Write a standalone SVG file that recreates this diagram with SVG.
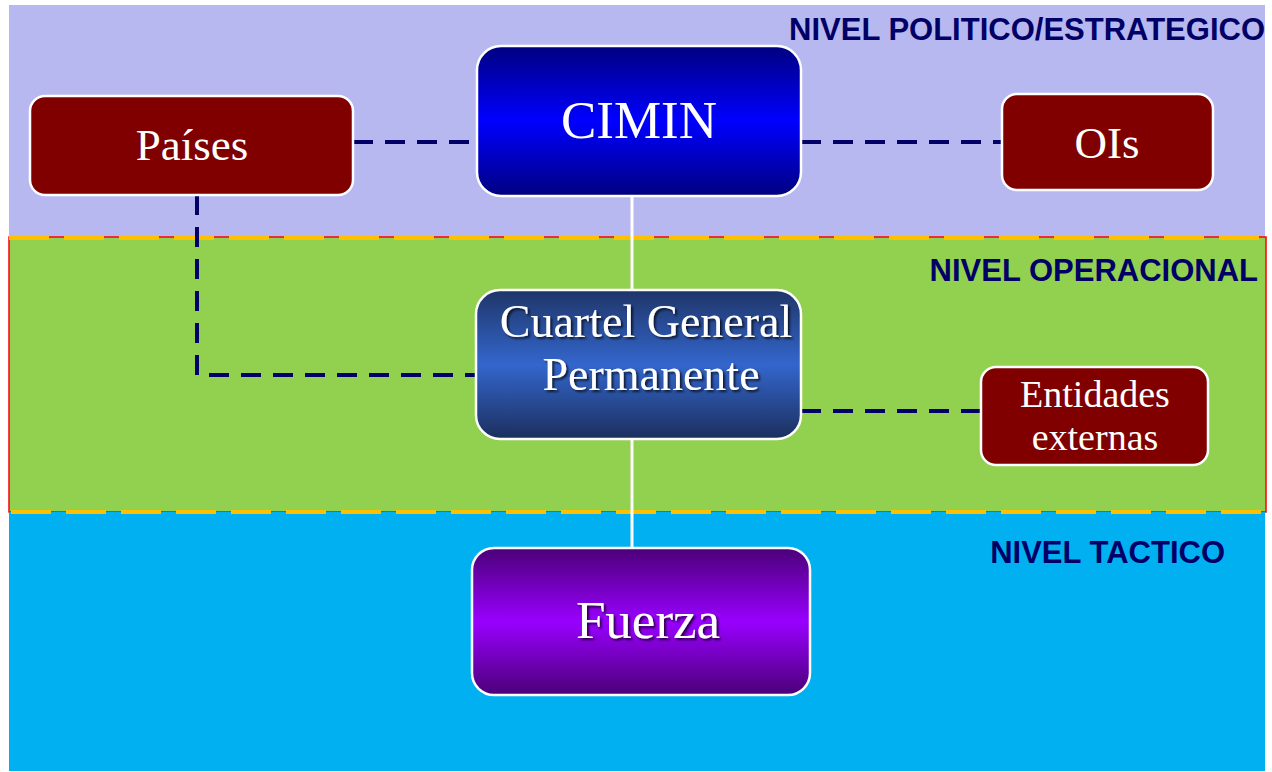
<svg xmlns="http://www.w3.org/2000/svg" width="1272" height="772" viewBox="0 0 1272 772">
<defs>
<linearGradient id="gBlue" x1="0" y1="0" x2="0" y2="1">
<stop offset="0" stop-color="#000080"/><stop offset="0.5" stop-color="#0000FF"/><stop offset="1" stop-color="#000080"/>
</linearGradient>
<linearGradient id="gCgp" x1="0" y1="0" x2="0" y2="1">
<stop offset="0" stop-color="#1F3568"/><stop offset="0.5" stop-color="#3366CC"/><stop offset="1" stop-color="#1C2F5E"/>
</linearGradient>
<linearGradient id="gPur" x1="0" y1="0" x2="0" y2="1">
<stop offset="0" stop-color="#4B0078"/><stop offset="0.5" stop-color="#9900FF"/><stop offset="1" stop-color="#4B0078"/>
</linearGradient>
<filter id="sh" x="-10%" y="-10%" width="120%" height="130%">
<feDropShadow dx="2" dy="2" stdDeviation="1" flood-color="#000" flood-opacity="0.7"/>
</filter>
</defs>
<style>
.node{stroke:#fff;stroke-width:2.5}
.red{fill:#800000}
.t{font-family:"Liberation Serif",serif;fill:#fff;text-anchor:middle}
.lvl{font-family:"Liberation Sans",Arial,sans-serif;font-weight:bold;font-size:31px;fill:#000066;text-anchor:end}
.dash{fill:none;stroke:#000066;stroke-width:4;stroke-dasharray:20 12}
.solid{fill:none;stroke:#fff;stroke-width:3}
.bord{fill:none;stroke:#FFC000;stroke-width:4;stroke-dasharray:40 15}
</style>
<rect width="1272" height="772" fill="#fff"/>
<g id="bands">
<rect x="9" y="5" width="1256" height="232" fill="#B8B8F0"/>
<rect x="9" y="237" width="1257" height="275" fill="#92D050" stroke="#FF0000" stroke-width="1.5"/>
<rect x="9" y="512" width="1256" height="259" fill="#00B0F0"/>
<line x1="9" y1="238" x2="1266" y2="238" class="bord"/>
<line x1="11" y1="512" x2="1266" y2="512" class="bord"/>
<text x="1265" y="40" class="lvl">NIVEL POLITICO/ESTRATEGICO</text>
<text x="1258" y="281" class="lvl">NIVEL OPERACIONAL</text>
<text x="1225" y="563" class="lvl">NIVEL TACTICO</text>
</g>
<g id="connectors">
<path class="dash" d="M353 142H477"/>
<path class="dash" d="M801 142H1002"/>
<path class="dash" d="M197 195V375H476"/>
<path class="dash" d="M801 411H981"/>
<path class="solid" d="M632 196V290"/>
<path class="solid" d="M632 439V548"/>
</g>
<g id="paises">
<rect x="30" y="96" width="323" height="99" rx="15" class="node red"/>
<text x="192" y="160" class="t" font-size="45">Países</text>
</g>
<g id="cimin">
<rect x="477" y="46" width="324" height="150" rx="24" class="node" fill="url(#gBlue)"/>
<text x="639" y="138" class="t" font-size="53">CIMIN</text>
</g>
<g id="ois">
<rect x="1002" y="94" width="211" height="96" rx="15" class="node red"/>
<text x="1107" y="158" class="t" font-size="45">OIs</text>
</g>
<g id="cgp">
<rect x="476" y="290" width="325" height="149" rx="24" class="node" fill="url(#gCgp)"/>
<g filter="url(#sh)">
<text x="646" y="337" class="t" font-size="46">Cuartel General</text>
<text x="651" y="390" class="t" font-size="46">Permanente</text>
</g>
</g>
<g id="entidades">
<rect x="981" y="367" width="227" height="98" rx="15" class="node red"/>
<text x="1095" y="407" class="t" font-size="38">Entidades</text>
<text x="1095" y="450" class="t" font-size="38">externas</text>
</g>
<g id="fuerza">
<rect x="472" y="548" width="338" height="147" rx="22" class="node" fill="url(#gPur)"/>
<text x="648" y="638" class="t" font-size="53" filter="url(#sh)">Fuerza</text>
</g>
</svg>
